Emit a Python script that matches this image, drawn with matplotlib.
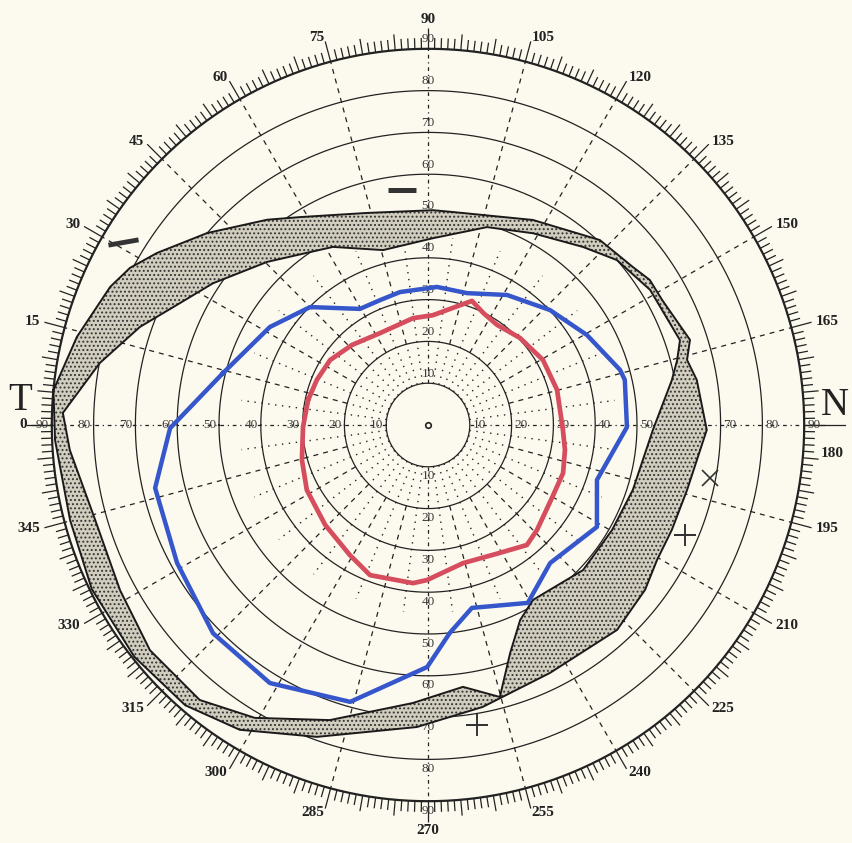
import numpy as np
import matplotlib.pyplot as plt
from matplotlib.path import Path
from matplotlib.patches import PathPatch

plt.rcParams['font.family'] = ['Liberation Serif', 'DejaVu Serif']
plt.rcParams['hatch.linewidth'] = 0.9

# meridian angle in degrees (0 = temporal side, going clockwise), eccentricity in degrees
red_angle = [11.8, 22.1, 33.6, 46.5, 62.4, 82.0, 92.6, 109.5, 116.2, 124.6, 136.6,
             150.5, 164.8, 182.1, 190.3, 199.6, 210.5, 223.9, 230.5, 240.6, 255.8,
             270.4, 275.4, 291.1, 301.0, 315.8, 331.8, 344.5, 359.1]
red_ecc = [29.3, 28.7, 28.1, 26.4, 24.8, 25.8, 26.3, 31.5, 29.9, 29.1, 30.3,
           31.6, 32.0, 32.3, 33.3, 34.3, 34.4, 36.2, 37.2, 35.1, 34.1,
           37.1, 38.0, 38.5, 36.3, 34.3, 32.9, 31.3, 29.9]

blue_angle = [14.2, 31.8, 45.0, 59.6, 69.0, 78.1, 93.7, 106.5, 121.3, 136.7, 150.5,
              164.0, 167.1, 180.6, 198.0, 211.1, 228.5, 240.7, 256.5, 264.0, 270.2,
              285.7, 301.5, 315.9, 331.2, 347.0, 359.3]
blue_ecc = [50.6, 44.5, 39.9, 32.2, 32.0, 32.5, 33.1, 32.9, 36.4, 40.1, 43.7,
            47.8, 48.3, 47.6, 42.5, 47.2, 44.1, 48.8, 45.0, 50.0, 57.9,
            68.8, 72.4, 71.6, 68.5, 67.0, 61.7]

# shaded band: outer and inner limit
outer_angle = [5.3, 14.1, 23.5, 27.8, 32.4, 41.0, 51.9, 58.4, 73.9, 91.3, 96.7,
               117.1, 132.9, 142.4, 146.8, 151.9, 162.0, 165.9, 170.5, 181.0, 194.1,
               203.3, 210.5, 217.2, 227.3, 243.8, 259.0, 272.1, 289.6, 301.7, 310.9,
               321.7, 334.0, 345.1, 357.7]
outer_ecc = [90.0, 86.6, 82.9, 80.6, 76.8, 70.0, 62.4, 58.4, 52.8, 51.4, 51.3,
             55.1, 60.4, 61.9, 63.4, 63.5, 65.9, 63.9, 65.2, 66.7, 63.9,
             63.5, 63.6, 65.2, 66.7, 66.1, 68.7, 72.3, 79.2, 85.7, 88.7,
             89.5, 89.5, 88.6, 89.3]
inner_angle = [1.9, 10.7, 18.8, 26.2, 33.4, 45.4, 61.9, 75.6, 91.5, 106.6, 118.7,
               131.1, 138.9, 148.7, 161.4, 165.4, 169.6, 181.3, 197.6, 209.7, 223.1,
               239.0, 244.7, 250.2, 255.2, 262.4, 273.1, 288.4, 300.6, 309.7, 321.0,
               331.8, 344.1, 356.0]
inner_ecc = [87.4, 79.9, 72.8, 66.1, 61.6, 54.8, 48.3, 43.2, 44.7, 49.4, 52.3,
             56.5, 60.0, 62.2, 63.6, 61.6, 59.3, 53.8, 51.4, 50.7, 50.8,
             48.8, 51.6, 58.0, 67.3, 63.2, 66.6, 74.4, 81.4, 85.5, 85.6,
             83.6, 82.8, 85.9]

# small marks drawn by hand on the chart
dash_angle = [83.7, 31.0]
dash_ecc = [56.6, 85.1]
plus_angle = [260.7, 203.2]
plus_ecc = [72.7, 66.9]
cross_angle = [190.6]
cross_ecc = [68.7]

circle_ecc = [10, 20, 30, 40, 50, 60, 70, 80]
ring_labels = list(range(0, 360, 15))
axis_labels = [10, 20, 30, 40, 50, 60, 70, 80, 90]

ink = '#222222'
paper = '#fcfaee'


def closed(a, r):
    a = list(a) + [a[0]]
    r = list(r) + [r[0]]
    return np.deg2rad(a), np.array(r)


fig = plt.figure(figsize=(8.53, 8.43), dpi=100, facecolor=paper)
ax = fig.add_axes([10 / 853, 0, 836 / 853, 836 / 843], projection='polar')
ax.set_theta_zero_location('W')
ax.set_theta_direction(-1)
ax.set_ylim(0, 100)
ax.axis('off')

full = np.linspace(0, 2 * np.pi, 721)
for r in circle_ecc:
    ax.plot(full, np.full_like(full, r), color=ink, lw=0.9, zorder=2)
ax.plot(full, np.full_like(full, 90), color=ink, lw=1.6, zorder=2)

# radial meridians
for a in range(0, 360, 15):
    t = np.deg2rad(a)
    if a % 90 == 0:
        ax.plot([t, t], [10, 90], color=ink, lw=0.9, ls=(0, (3, 3, 1, 3)), zorder=1)
    else:
        ax.plot([t, t], [20, 90], color=ink, lw=0.9, ls=(0, (4, 4)), zorder=1)
        ax.plot([t, t], [10, 20], color=ink, lw=1.0, ls=(0, (1, 4)), zorder=1)
    t2 = np.deg2rad(a + 7.5)
    ax.plot([t2, t2], [10, 45], color=ink, lw=1.0, ls=(0, (1, 4)), zorder=1)
ax.plot([np.pi, np.pi], [90, 100], color=ink, lw=0.9, zorder=1)
ax.plot([0, 0], [90, 96], color=ink, lw=0.9, zorder=1)

# degree scale around the rim
deg = np.arange(360)
tick_end = np.where(deg % 15 == 0, 95.0, np.where(deg % 5 == 0, 93.8, 92.6))
ax.vlines(np.deg2rad(deg), 90, tick_end, color=ink, lw=0.9, zorder=2)

for a in ring_labels:
    t = np.deg2rad(a)
    if a == 90:
        ax.text(t, 95.5, str(a), ha='center', va='bottom', fontsize=11, fontweight='bold', color=ink)
    elif a == 270:
        ax.text(t, 95.5, str(a), ha='center', va='top', fontsize=11, fontweight='bold', color=ink)
    elif a == 180:
        ax.text(np.deg2rad(184), 97, str(a), ha='center', va='center', fontsize=11, fontweight='bold', color=ink)
    elif 90 < a < 270:
        ax.text(t, 96, str(a), ha='left', va='center', fontsize=11, fontweight='bold', color=ink)
    else:
        ax.text(t, 96, str(a), ha='right', va='center', fontsize=11, fontweight='bold', color=ink)

ax.text(np.deg2rad(3.5), 97.8, 'T', ha='center', va='center', fontsize=28, color=ink)
ax.text(np.deg2rad(177.2), 97.5, 'N', ha='center', va='center', fontsize=28, color=ink)

# eccentricity numbers along the main meridians
for a in [0, 90, 180, 270]:
    for v in axis_labels:
        if a == 180 and v == 60:
            continue
        ax.text(np.deg2rad(a), v + 2.3, str(v), ha='center', va='center', fontsize=9.5,
                color='#3a3a3a', zorder=3)
ax.plot([0], [0], marker='o', ms=4, mfc='none', mec=ink, mew=1.2)

# shaded band between the two limits
ot, orr = closed(outer_angle, outer_ecc)
it, irr = closed(inner_angle, inner_ecc)
verts = np.concatenate([np.column_stack([ot, orr]), np.column_stack([it[::-1], irr[::-1]])])
codes = ([Path.MOVETO] + [Path.LINETO] * (len(ot) - 2) + [Path.CLOSEPOLY] +
         [Path.MOVETO] + [Path.LINETO] * (len(it) - 2) + [Path.CLOSEPOLY])
band = PathPatch(Path(verts, codes), transform=ax.transData, facecolor='#d2cebf',
                 edgecolor='#333333', lw=0, hatch='....', zorder=3)
ax.add_patch(band)
ax.plot(ot, orr, color='#1a1a1a', lw=1.4, zorder=4)
ax.plot(it, irr, color='#1a1a1a', lw=1.4, zorder=4)

# field limits
bt, br = closed(blue_angle, blue_ecc)
ax.plot(bt, br, color='#3656cc', lw=3.2, zorder=5)
rt, rr = closed(red_angle, red_ecc)
ax.plot(rt, rr, color='#d64d5e', lw=3.4, zorder=5)

ax.plot(np.deg2rad(dash_angle[:1]), dash_ecc[:1], ls='none', marker='_', ms=20, mew=3.5, color='#333333', zorder=6)
ax.plot(np.deg2rad(dash_angle[1:]), dash_ecc[1:], ls='none', marker=(2, 0, 100), ms=22, mew=3.5, color='#333333', zorder=6)
ax.plot(np.deg2rad(plus_angle), plus_ecc, ls='none', marker='+', ms=16, mew=1.4, color='#333333', zorder=6)
ax.plot(np.deg2rad(cross_angle), cross_ecc, ls='none', marker='x', ms=12, mew=1.2, color='#333333', zorder=6)

fig.savefig('out.png', dpi=100, facecolor=paper)
